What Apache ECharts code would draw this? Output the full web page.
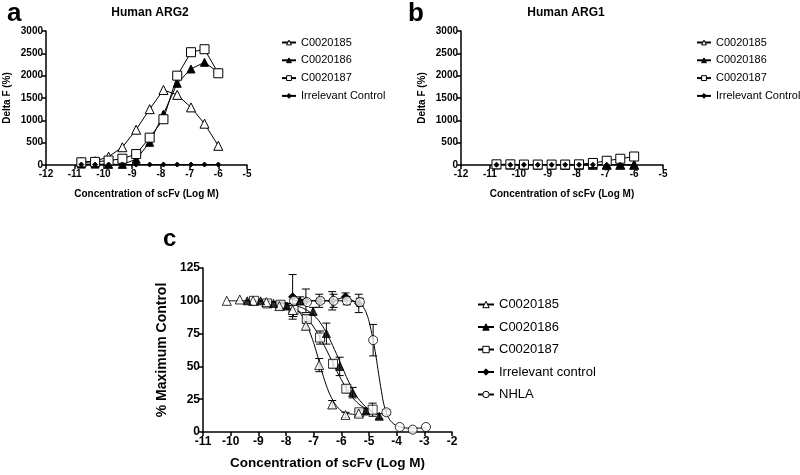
<!DOCTYPE html>
<html><head><meta charset="utf-8">
<script src="https://cdn.jsdelivr.net/npm/echarts@6/dist/echarts.min.js"></script>
<style>html,body{margin:0;padding:0;background:#fff}#c{width:800px;height:475px}</style>
</head><body><div id="c"></div>
<script>
// ---------- Panel a / b (Delta F) ----------
const xAB = [-10.77,-10.29,-9.82,-9.34,-8.86,-8.39,-7.91,-7.43,-6.95,-6.48,-6.00];
const a185 = [70,85,186,398,790,1250,1680,1570,1290,925,430];
const a186 = [20,20,15,15,128,508,1140,1830,2150,2300,2075];
const a187 = [60,70,100,140,245,612,1024,2000,2525,2592,2054];
const aCtrl = [10,10,10,10,10,10,10,10,10,10,10];
const b185 = [15,10,10,10,10,5,5,5,5,5,5];
const b186 = [10,10,5,5,5,5,5,5,5,5,5];
const b187 = [15,15,10,10,10,10,15,45,95,140,190];
const bCtrl = [5,5,5,5,5,5,5,5,5,5,5];
const abYTicks = [0,500,1000,1500,2000,2500,3000];
const abXTicks = [-12,-11,-10,-9,-8,-7,-6,-5];

// ---------- Panel c (% Maximum Control) ----------
const c185x = [-10.14,-9.67,-9.19,-8.71,-8.24,-7.76,-7.28,-6.80,-6.33,-5.85,-5.37];
const c185y = [100,101,100,99,96,93,81,51,21,13,14];
const c185e = [0,0,0,0,2,5,3,5,3,2,2];
const c186x = [-9.40,-8.92,-8.45,-7.97,-7.49,-7.02,-6.54,-6.06,-5.59,-5.11,-4.63];
const c186y = [100,100,98,96,100,92,75,50,30,16,12];
const c186e = [0,0,0,2,3,3,8,7,4,2,2];
const c187x = [-9.16,-8.68,-8.20,-7.73,-7.25,-6.77,-6.30,-5.82,-5.35,-4.87];
const c187y = [100,98,97,93,86,72,52,33,15,17];
const c187e = [0,2,2,5,3,5,3,3,2,5];
const cCtrlx = [-7.76,-7.28,-6.80,-6.33,-5.85,-5.37];
const cCtrly = [103,100,100,100,103,98];
const cCtrle = [17,9,5,7,3,7];
const cNhlax = [-7.71,-7.24,-6.76,-6.28,-5.80,-5.33,-4.85,-4.37,-3.89,-3.42,-2.94];
const cNhlay = [100,99,100,100,100,99,70,15,3.8,1.8,3.8];
const cNhlae = [0,0,2,5,3,3,12,2,0,0,0];
// fitted curves
const k185x = [-10.14,-9,-8.3,-7.9,-7.6,-7.35,-7.1,-6.9,-6.7,-6.5,-6.3,-6.1,-5.9,-5.6,-5.37];
const k185y = [100,100,99,97,93,86,74,61,46,33,24,18,15,13.5,13];
const k186x = [-9.40,-8.5,-8.0,-7.6,-7.3,-7.0,-6.75,-6.5,-6.25,-6.0,-5.75,-5.5,-5.25,-5.0,-4.8,-4.63];
const k186y = [100,99.5,98.5,96,93.5,89,83,74,63,51,39,29,22,17,14.5,13];
const k187x = [-9.16,-8.5,-8.0,-7.6,-7.3,-7.0,-6.75,-6.5,-6.25,-6.0,-5.75,-5.5,-5.25,-5.0,-4.87];
const k187y = [100,99,97,93,88,80,71,61,50,40,31,24,19.5,17,16];
const kNhlax = [-7.71,-6,-5.6,-5.35,-5.2,-5.05,-4.95,-4.85,-4.75,-4.65,-4.55,-4.45,-4.3,-4.1,-3.9,-3.6,-3.2,-2.94];
const kNhlay = [100,100,99.5,98,95,88,80,70,58,44,31,20,11,6,4,3,3,3];
const cYTicks = [0,25,50,75,100,125];
const cXTicks = [-11,-10,-9,-8,-7,-6,-5,-4,-3,-2];

const FONT = '"Liberation Sans", Arial, sans-serif';
const zip = (xs, ys) => xs.map((x, i) => [x, ys[i]]);

const OPEN = {color:'#fff', borderColor:'#000', borderWidth:1};
const FILL = {color:'#000', borderColor:'#000', borderWidth:1};
const styles = {
  '185': {symbol:'triangle', itemStyle:OPEN},
  '186': {symbol:'triangle', itemStyle:FILL},
  '187': {symbol:'rect', itemStyle:OPEN},
  'ctrl': {symbol:'diamond', itemStyle:FILL},
  'nhla': {symbol:'circle', itemStyle:OPEN}
};

function lineS(name, key, xs, ys, idx, size) {
  return {type:'line', name, xAxisIndex:idx, yAxisIndex:idx, data:zip(xs, ys),
    symbol:styles[key].symbol, symbolSize:size, itemStyle:styles[key].itemStyle,
    lineStyle:{color:'#000', width:1}, showSymbol:true, z:3, animation:false};
}
function curveS(name, key, xs, ys) {
  return {type:'line', name, xAxisIndex:2, yAxisIndex:2, data:zip(xs, ys), smooth:0.4,
    symbol:styles[key].symbol, symbolSize:9, itemStyle:styles[key].itemStyle,
    showSymbol:false, lineStyle:{color:'#000', width:1}, z:2, animation:false, silent:true};
}
function ptsS(key, xs, ys, size) {
  return {type:'scatter', name:'pts'+key, xAxisIndex:2, yAxisIndex:2, data:zip(xs, ys),
    symbol:styles[key].symbol, symbolSize:size, itemStyle:styles[key].itemStyle, z:4, animation:false, silent:true};
}
function errS(xs, ys, es) {
  const data = [];
  xs.forEach((x, i) => { if (es[i] > 0) data.push([x, ys[i] - es[i], ys[i] + es[i]]); });
  return {type:'custom', xAxisIndex:2, yAxisIndex:2, data, z:1, silent:true, animation:false,
    encode:{x:0, y:[1,2]},
    renderItem:(p, api) => {
      const x = api.value(0);
      const lo = api.coord([x, api.value(1)]);
      const hi = api.coord([x, api.value(2)]);
      const w = 4, st = {stroke:'#000', lineWidth:1};
      return {type:'group', children:[
        {type:'line', shape:{x1:lo[0], y1:lo[1], x2:hi[0], y2:hi[1]}, style:st},
        {type:'line', shape:{x1:hi[0]-w, y1:hi[1], x2:hi[0]+w, y2:hi[1]}, style:st},
        {type:'line', shape:{x1:lo[0]-w, y1:lo[1], x2:lo[0]+w, y2:lo[1]}, style:st}
      ]};
    }};
}

function xAx(idx, ticks, fs, nameFs, gap) {
  return {type:'value', gridIndex:idx, min:ticks[0], max:ticks[ticks.length-1], interval:1,
    name:'Concentration of scFv (Log M)', nameLocation:'middle', nameGap:gap,
    nameTextStyle:{fontFamily:FONT, fontWeight:'bold', fontSize:nameFs, color:'#000'},
    axisLine:{onZero:false, lineStyle:{color:'#000', width:1.5}},
    axisTick:{length:4, lineStyle:{color:'#000', width:1.5}},
    axisLabel:{fontFamily:FONT, fontWeight:'bold', fontSize:fs, color:'#000', margin:4, formatter:v => String(v)},
    splitLine:{show:false}};
}
function yAx(idx, ticks, interval, name, fs, nameFs, gap) {
  return {type:'value', gridIndex:idx, min:ticks[0], max:ticks[ticks.length-1], interval,
    name, nameLocation:'middle', nameGap:gap,
    nameTextStyle:{fontFamily:FONT, fontWeight:'bold', fontSize:nameFs, color:'#000'},
    axisLine:{show:true, lineStyle:{color:'#000', width:1.5}},
    axisTick:{show:true, length:4, lineStyle:{color:'#000', width:1.5}},
    axisLabel:{fontFamily:FONT, fontWeight:'bold', fontSize:fs, color:'#000', margin:3, formatter:v => String(v)},
    splitLine:{show:false}};
}
function legend(names, left, top, fs, gap, iw, ih) {
  return {data:names, orient:'vertical', left, top, itemGap:gap, itemWidth:iw, itemHeight:ih,
    selectedMode:false, itemStyle:{borderWidth:1},
    textStyle:{fontFamily:FONT, fontSize:fs, color:'#000'}};
}

const ab = ['C0020185','C0020186','C0020187','Irrelevant Control'];
const cN = ['C0020185','C0020186','C0020187','Irrelevant control','NHLA'];

const option = {
  backgroundColor:'#fff',
  animation:false,
  title:[
    {text:'a', left:2, top:-4, textStyle:{fontFamily:FONT, fontWeight:'bold', fontSize:26, color:'#000'}},
    {text:'Human ARG2', left:145, top:2, textAlign:'center', textStyle:{fontFamily:FONT, fontWeight:'bold', fontSize:12, color:'#000'}},
    {text:'b', left:403, top:-4, textStyle:{fontFamily:FONT, fontWeight:'bold', fontSize:26, color:'#000'}},
    {text:'Human ARG1', left:561, top:2, textAlign:'center', textStyle:{fontFamily:FONT, fontWeight:'bold', fontSize:12, color:'#000'}},
    {text:'c', left:158, top:222, textStyle:{fontFamily:FONT, fontWeight:'bold', fontSize:24, color:'#000'}}
  ],
  grid:[
    {left:46, top:31, width:201, height:134},
    {left:461, top:31, width:202, height:134},
    {left:203, top:268, width:249, height:164}
  ],
  xAxis:[xAx(0, abXTicks, 10, 10, 24), xAx(1, abXTicks, 10, 10, 24), xAx(2, cXTicks, 12, 13.5, 24)],
  yAxis:[
    yAx(0, abYTicks, 500, 'Delta F (%)', 10, 10, 34),
    yAx(1, abYTicks, 500, 'Delta F (%)', 10, 10, 34),
    yAx(2, cYTicks, 25, '% Maximum Control', 12, 14, 34)
  ],
  legend:[
    legend(ab, 276, 32, 11, 6.8, 14, 6),
    legend(ab, 691, 32, 11, 6.8, 14, 6),
    legend(cN, 472, 293, 13, 9.5, 16, 8)
  ],
  series:[
    lineS('C0020185','185', xAB, a185, 0, 9),
    lineS('C0020186','186', xAB, a186, 0, 8),
    lineS('C0020187','187', xAB, a187, 0, 9),
    lineS('Irrelevant Control','ctrl', xAB, aCtrl, 0, 5),
    lineS('C0020185','185', xAB, b185, 1, 9),
    lineS('C0020186','186', xAB, b186, 1, 8),
    lineS('C0020187','187', xAB, b187, 1, 9),
    lineS('Irrelevant Control','ctrl', xAB, bCtrl, 1, 5),
    errS(c185x, c185y, c185e), errS(c186x, c186y, c186e), errS(c187x, c187y, c187e),
    errS(cCtrlx, cCtrly, cCtrle), errS(cNhlax, cNhlay, cNhlae),
    curveS('C0020185','185', k185x, k185y),
    curveS('C0020186','186', k186x, k186y),
    curveS('C0020187','187', k187x, k187y),
    {type:'line', name:'Irrelevant control', xAxisIndex:2, yAxisIndex:2, data:zip(cCtrlx, cCtrly),
      symbol:'diamond', symbolSize:8, itemStyle:FILL, lineStyle:{color:'#000', width:1}, z:4, animation:false},
    curveS('NHLA','nhla', kNhlax, kNhlay),
    ptsS('nhla', cNhlax, cNhlay, 9),
    ptsS('187', c187x, c187y, 9),
    ptsS('185', c185x, c185y, 9),
    ptsS('186', c186x, c186y, 8)
  ]
};
const chart = echarts.init(document.getElementById('c'), null, {renderer:'canvas'});
chart.setOption(option);
</script></body></html>
